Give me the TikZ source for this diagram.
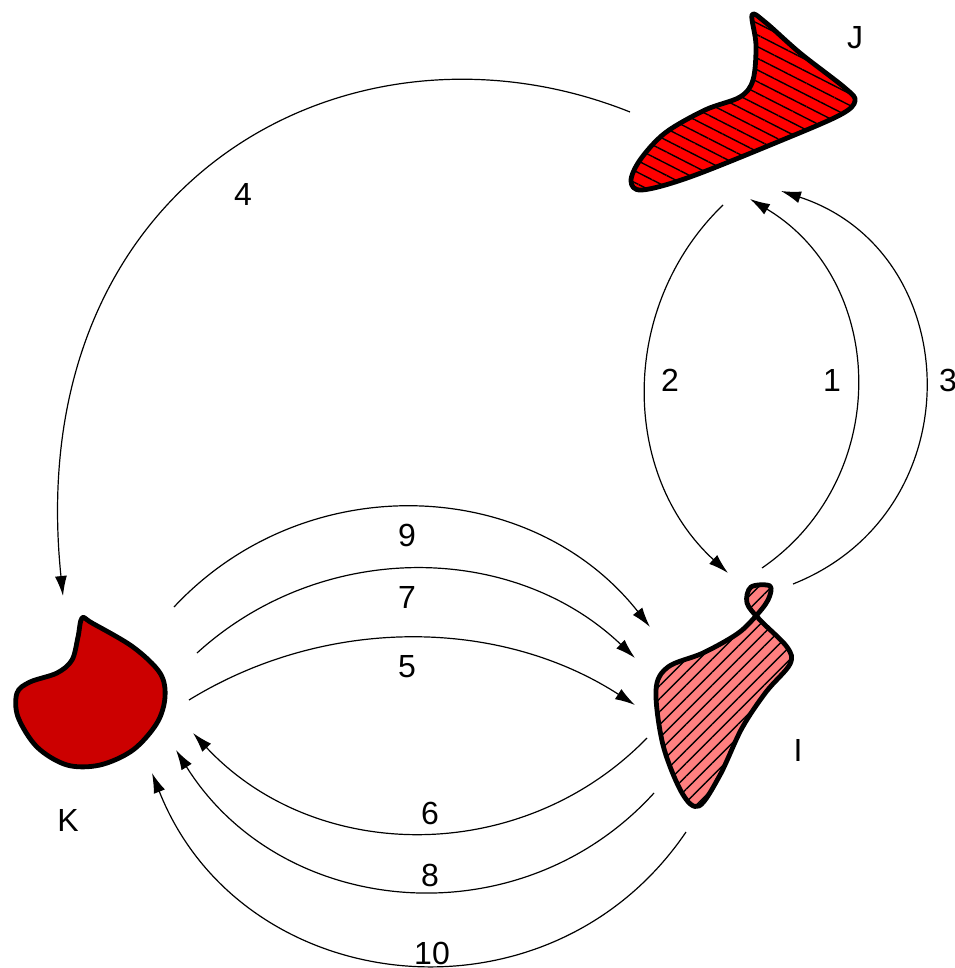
\documentclass[tikz,border=0pt]{standalone}
\usepackage{fontspec}
\setmainfont{Liberation Sans}
\usetikzlibrary{arrows.meta,patterns.meta}
\definecolor{jred}{RGB}{255,0,0}
\definecolor{ipink}{RGB}{255,128,128}
\definecolor{kred}{RGB}{204,0,0}
\tikzset{
  linkarrow/.style={-{Latex[length=10pt,width=6pt]}, line width=0.6pt},
  numlabel/.style={font=\fontsize{16}{19}\selectfont, inner sep=1pt},
  regionlabel/.style={font=\fontsize{16}{19}\selectfont, inner sep=1pt},
  regionJ/.style={preaction={fill=jred}, pattern={Lines[angle=-27,distance=5.2pt,line width=0.7pt]}, draw, line width=2.4pt, line join=round},
  regionI/.style={preaction={fill=ipink}, pattern={Lines[angle=45,distance=4.6pt,line width=0.7pt]}, draw, line width=2.4pt, line join=round},
  regionK/.style={fill=kred, draw, line width=2.4pt, line join=round}
}

\begin{document}
\begin{tikzpicture}[x=0.5pt, y=-0.5pt]
  \useasboundingbox (0,0) rectangle (954,968);

  \draw[regionJ] plot[smooth cycle, tension=0.55] coordinates {(752,15) (756,45) (753,80) (740,97) (705,110) (665,133) (640,160) (631,181) (642,190) (690,177) (780,141) (840,115) (855,101) (845,88) (800,53) (765,22)};
  \draw[regionI] plot[smooth cycle, tension=0.55] coordinates {(656,690) (668,667) (703,653) (737,634) (755,617) (768,600) (770,586) (751,587) (747,603) (760,620) (787,647) (790,664) (766,692) (742,728) (720,775) (699,806) (682,793) (663,745)};
  \draw[regionK] plot[smooth cycle, tension=0.55] coordinates {(82,618) (92,623) (133,647) (160,673) (165,697) (157,723) (133,750) (100,765) (67,765) (37,747) (18,717) (17,693) (30,682) (57,673) (72,660) (78,637)};

  \node[regionlabel] (J) at (855,38) {J};
  \node[regionlabel] (I) at (798,750) {I};
  \node[regionlabel] (K) at (68,820) {K};

  \coordinate (j1) at (750,199);
  \coordinate (j2) at (723,205);
  \coordinate (j3) at (781,191);
  \coordinate (j4) at (630,112);
  \coordinate (i1) at (762,568);
  \coordinate (i2) at (728,573);
  \coordinate (i3) at (793,584);
  \coordinate (i5) at (635,705);
  \coordinate (i6) at (647,738);
  \coordinate (i7) at (635,658);
  \coordinate (i8) at (654,793);
  \coordinate (i9) at (650,627);
  \coordinate (i10) at (686,832);
  \coordinate (k4) at (63,596);
  \coordinate (k5) at (189,700);
  \coordinate (k6) at (193,733);
  \coordinate (k7) at (197,653);
  \coordinate (k8) at (176,750);
  \coordinate (k9) at (174,607);
  \coordinate (k10) at (152,773);

  \draw[linkarrow] (i1) .. controls (893.5,477.4) and (887,281) .. (j1);
  \draw[linkarrow] (j2) .. controls (618.3,306.2) and (620.6,474.6) .. (i2);
  \draw[linkarrow] (i3) .. controls (974.9,511.8) and (966.9,252) .. (j3);
  \draw[linkarrow] (j4) .. controls (350,0) and (20,180) .. (k4);
  \draw[linkarrow] (k5) .. controls (326.3,615.6) and (499.7,617.6) .. (i5);
  \draw[linkarrow] (i6) .. controls (522,866.5) and (315.1,864.2) .. (k6);
  \draw[linkarrow] (k7) .. controls (321.6,539.4) and (513,541.6) .. (i7);
  \draw[linkarrow] (i8) .. controls (519.8,940.6) and (281.7,919.2) .. (k8);
  \draw[linkarrow] (k9) .. controls (305.3,466.5) and (531,476) .. (i9);
  \draw[linkarrow] (i10) .. controls (548.9,1034) and (241.7,1000) .. (k10);

  \node[numlabel] (n1) at (832,380) {1};
  \node[numlabel] (n2) at (670,380) {2};
  \node[numlabel] (n3) at (948,380) {3};
  \node[numlabel] (n4) at (243,194) {4};
  \node[numlabel] (n5) at (407,667) {5};
  \node[numlabel] (n6) at (430,813) {6};
  \node[numlabel] (n7) at (407,597) {7};
  \node[numlabel] (n8) at (430,875) {8};
  \node[numlabel] (n9) at (407,535) {9};
  \node[numlabel] (n10) at (432,953) {10};
\end{tikzpicture}
\end{document}
